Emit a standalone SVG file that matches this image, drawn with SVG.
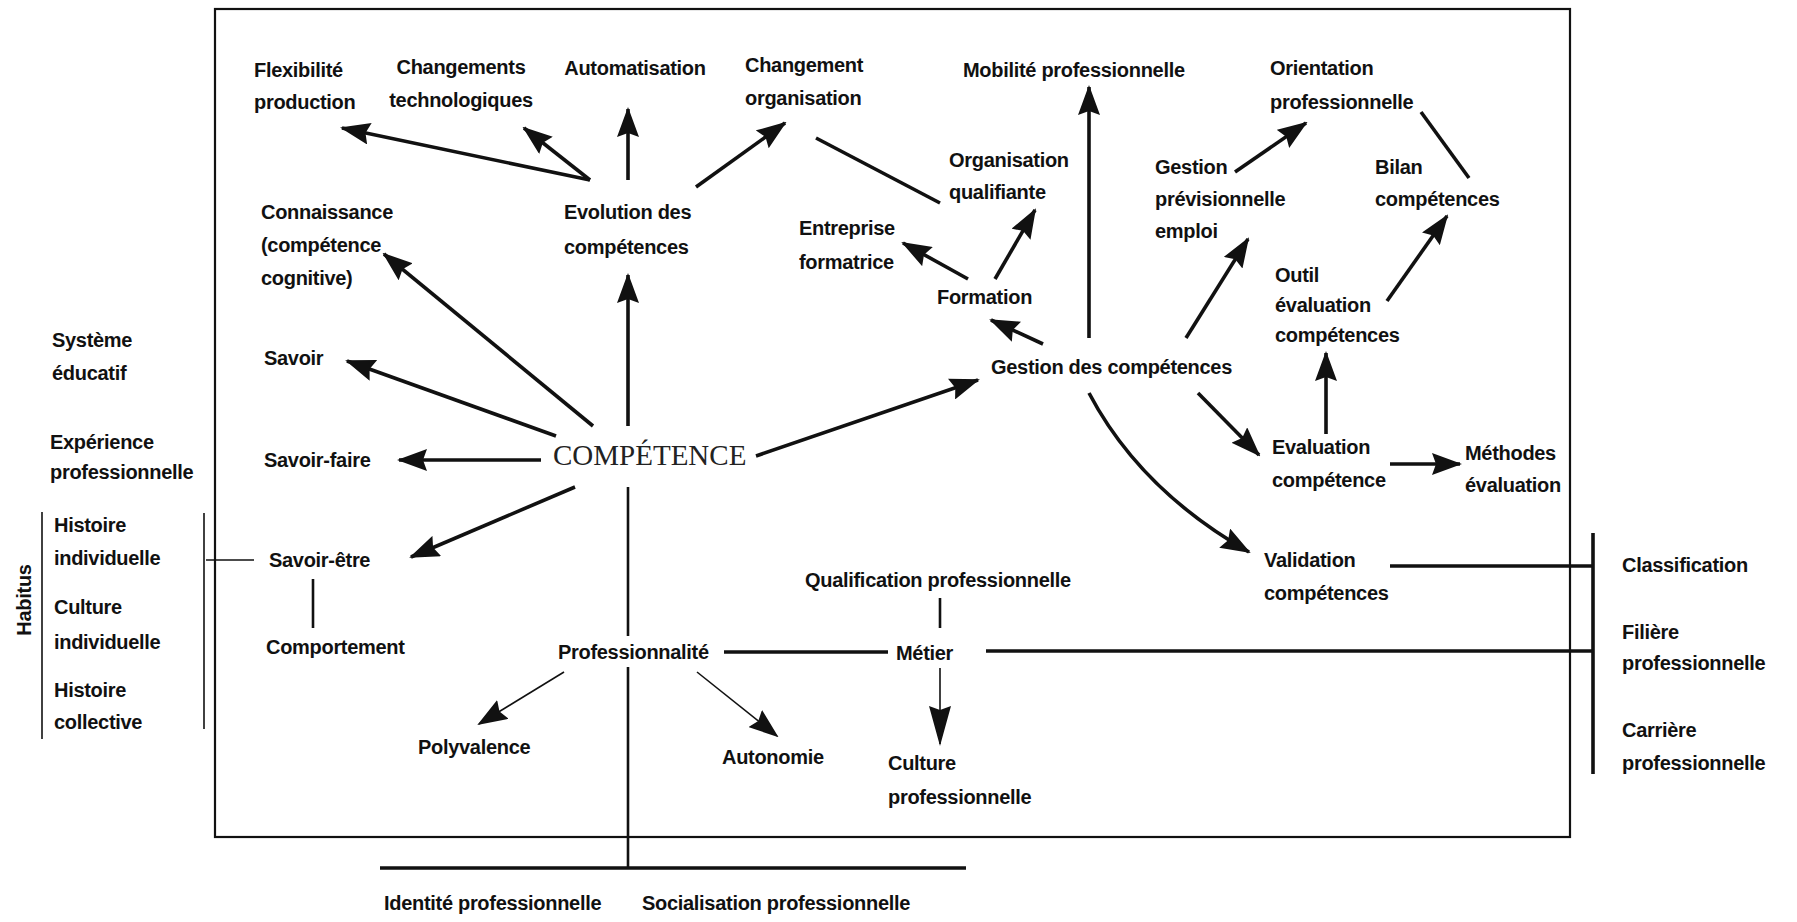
<svg xmlns="http://www.w3.org/2000/svg" width="1797" height="922" viewBox="0 0 1797 922">
<style>
.t{font-family:"Liberation Sans",Arial,sans-serif;font-size:20px;font-weight:bold;fill:#111;letter-spacing:-0.3px}
.m{text-anchor:middle}
.big{font-family:"Liberation Serif","Times New Roman",serif;font-size:29px;fill:#222}
.c{stroke:#111;stroke-width:3.6;fill:none}
.thin{stroke:#111;stroke-width:1.6;fill:none}
.mid{stroke:#111;stroke-width:2.6;fill:none}
.a{marker-end:url(#ah)}
.al{marker-end:url(#ahl)}
</style>
<defs>
<marker id="ah" markerUnits="userSpaceOnUse" markerWidth="30" markerHeight="22" refX="28" refY="11" orient="auto">
<path d="M0,0 L30,11 L0,22 L4,11 z" fill="#111"/>
</marker>
<marker id="ahl" markerUnits="userSpaceOnUse" markerWidth="40" markerHeight="22" refX="38" refY="11" orient="auto">
<path d="M0,0 L40,11 L0,22 L4,11 z" fill="#111"/>
</marker>
</defs>
<rect width="1797" height="922" fill="#fff"/>
<rect id="frame" x="215" y="9" width="1355" height="828" fill="none" stroke="#111" stroke-width="2.2"/>

<g id="connectors">
<line class="c a" x1="590" y1="180" x2="342" y2="128"/>
<line class="c a" x1="590" y1="180" x2="524" y2="128"/>
<line class="c a" x1="628" y1="180" x2="628" y2="109"/>
<line class="c a" x1="696" y1="187" x2="785" y2="123"/>
<line class="c" x1="816" y1="138" x2="940" y2="203"/>
<line class="c a" x1="628" y1="426" x2="628" y2="275"/>
<line class="c a" x1="593" y1="426" x2="384" y2="254"/>
<line class="c a" x1="556" y1="436" x2="347" y2="361"/>
<line class="c a" x1="541" y1="460" x2="399" y2="460"/>
<line class="c a" x1="575" y1="487" x2="411" y2="557"/>
<line class="c a" x1="756" y1="456" x2="978" y2="380"/>
<line class="c a" x1="1043" y1="344" x2="991" y2="320"/>
<line class="c a" x1="968" y1="279" x2="903" y2="243"/>
<line class="c a" x1="995" y1="279" x2="1035" y2="210"/>
<line class="c a" x1="1089" y1="338" x2="1089" y2="87"/>
<line class="c a" x1="1186" y1="338" x2="1248" y2="239"/>
<line class="c a" x1="1235" y1="172" x2="1306" y2="123"/>
<line class="c" x1="1421" y1="112" x2="1469" y2="178"/>
<line class="c a" x1="1387" y1="301" x2="1447" y2="216"/>
<line class="c a" x1="1326" y1="434" x2="1326" y2="353"/>
<line class="c a" x1="1198" y1="393" x2="1259" y2="455"/>
<path class="c a" d="M1089,393 Q1140,490 1249,552"/>
<line class="c a" x1="1390" y1="464" x2="1460" y2="464"/>
<line class="c" x1="1390" y1="566" x2="1593" y2="566"/>
<line class="c" x1="1593" y1="533" x2="1593" y2="774"/>
<line class="c" x1="986" y1="651" x2="1593" y2="651"/>
<line class="c" x1="724" y1="652" x2="888" y2="652"/>
<line class="mid" x1="940" y1="598" x2="940" y2="628"/>
<line class="thin al" x1="940" y1="668" x2="940" y2="744"/>
<line class="thin a" x1="564" y1="672" x2="479" y2="724"/>
<line class="thin a" x1="697" y1="672" x2="777" y2="736"/>
<line class="mid" x1="628" y1="487" x2="628" y2="636"/>
<line class="mid" x1="628" y1="667" x2="628" y2="868"/>
<line class="c" x1="380" y1="868" x2="966" y2="868"/>
<line class="mid" x1="313" y1="579" x2="313" y2="628"/>
<line class="thin" x1="206" y1="560" x2="254" y2="560"/>
<line class="thin" x1="42" y1="512" x2="42" y2="739"/>
<line class="thin" x1="204" y1="513" x2="204" y2="729"/>
</g>

<g id="n-flexibilite"><text class="t" x="254" y="77">Flexibilité</text><text class="t" x="254" y="109">production</text></g>
<g id="n-changements"><text class="t m" x="461" y="74">Changements</text><text class="t m" x="461" y="107">technologiques</text></g>
<g id="n-automatisation"><text class="t m" x="635" y="75">Automatisation</text></g>
<g id="n-changement-org"><text class="t" x="745" y="72">Changement</text><text class="t" x="745" y="105">organisation</text></g>
<g id="n-mobilite"><text class="t" x="963" y="77">Mobilité professionnelle</text></g>
<g id="n-orientation"><text class="t" x="1270" y="75">Orientation</text><text class="t" x="1270" y="109">professionnelle</text></g>
<g id="n-connaissance"><text class="t" x="261" y="219">Connaissance</text><text class="t" x="261" y="252">(compétence</text><text class="t" x="261" y="285">cognitive)</text></g>
<g id="n-evolution"><text class="t" x="564" y="219">Evolution des</text><text class="t" x="564" y="254">compétences</text></g>
<g id="n-org-qualifiante"><text class="t" x="949" y="167">Organisation</text><text class="t" x="949" y="199">qualifiante</text></g>
<g id="n-entreprise"><text class="t" x="799" y="235">Entreprise</text><text class="t" x="799" y="269">formatrice</text></g>
<g id="n-formation"><text class="t" x="937" y="304">Formation</text></g>
<g id="n-gpe"><text class="t" x="1155" y="174">Gestion</text><text class="t" x="1155" y="206">prévisionnelle</text><text class="t" x="1155" y="238">emploi</text></g>
<g id="n-bilan"><text class="t" x="1375" y="174">Bilan</text><text class="t" x="1375" y="206">compétences</text></g>
<g id="n-outil"><text class="t" x="1275" y="282">Outil</text><text class="t" x="1275" y="312">évaluation</text><text class="t" x="1275" y="342">compétences</text></g>
<g id="n-gestion"><text class="t" x="991" y="374">Gestion des compétences</text></g>
<g id="n-evaluation"><text class="t" x="1272" y="454">Evaluation</text><text class="t" x="1272" y="487">compétence</text></g>
<g id="n-methodes"><text class="t" x="1465" y="460">Méthodes</text><text class="t" x="1465" y="492">évaluation</text></g>
<g id="n-validation"><text class="t" x="1264" y="567">Validation</text><text class="t" x="1264" y="600">compétences</text></g>
<g id="n-classification"><text class="t" x="1622" y="572">Classification</text></g>
<g id="n-filiere"><text class="t" x="1622" y="639">Filière</text><text class="t" x="1622" y="670">professionnelle</text></g>
<g id="n-carriere"><text class="t" x="1622" y="737">Carrière</text><text class="t" x="1622" y="770">professionnelle</text></g>
<g id="n-competence"><text class="big" x="553" y="465">COMPÉTENCE</text></g>
<g id="n-savoir"><text class="t" x="264" y="365">Savoir</text></g>
<g id="n-savoir-faire"><text class="t" x="264" y="467">Savoir-faire</text></g>
<g id="n-savoir-etre"><text class="t" x="269" y="567">Savoir-être</text></g>
<g id="n-comportement"><text class="t" x="266" y="654">Comportement</text></g>
<g id="n-qualification"><text class="t" x="805" y="587">Qualification professionnelle</text></g>
<g id="n-metier"><text class="t" x="896" y="660">Métier</text></g>
<g id="n-culture-pro"><text class="t" x="888" y="770">Culture</text><text class="t" x="888" y="804">professionnelle</text></g>
<g id="n-professionnalite"><text class="t" x="558" y="659">Professionnalité</text></g>
<g id="n-polyvalence"><text class="t" x="418" y="754">Polyvalence</text></g>
<g id="n-autonomie"><text class="t" x="722" y="764">Autonomie</text></g>
<g id="n-identite"><text class="t" x="384" y="910">Identité professionnelle</text></g>
<g id="n-socialisation"><text class="t" x="642" y="910">Socialisation professionnelle</text></g>
<g id="n-systeme"><text class="t" x="52" y="347">Système</text><text class="t" x="52" y="380">éducatif</text></g>
<g id="n-experience"><text class="t" x="50" y="449">Expérience</text><text class="t" x="50" y="479">professionnelle</text></g>
<g id="n-histoire-ind"><text class="t" x="54" y="532">Histoire</text><text class="t" x="54" y="565">individuelle</text></g>
<g id="n-culture-ind"><text class="t" x="54" y="614">Culture</text><text class="t" x="54" y="649">individuelle</text></g>
<g id="n-histoire-col"><text class="t" x="54" y="697">Histoire</text><text class="t" x="54" y="729">collective</text></g>
<g id="n-habitus"><text class="t m" transform="translate(31,600) rotate(-90)">Habitus</text></g>
</svg>
